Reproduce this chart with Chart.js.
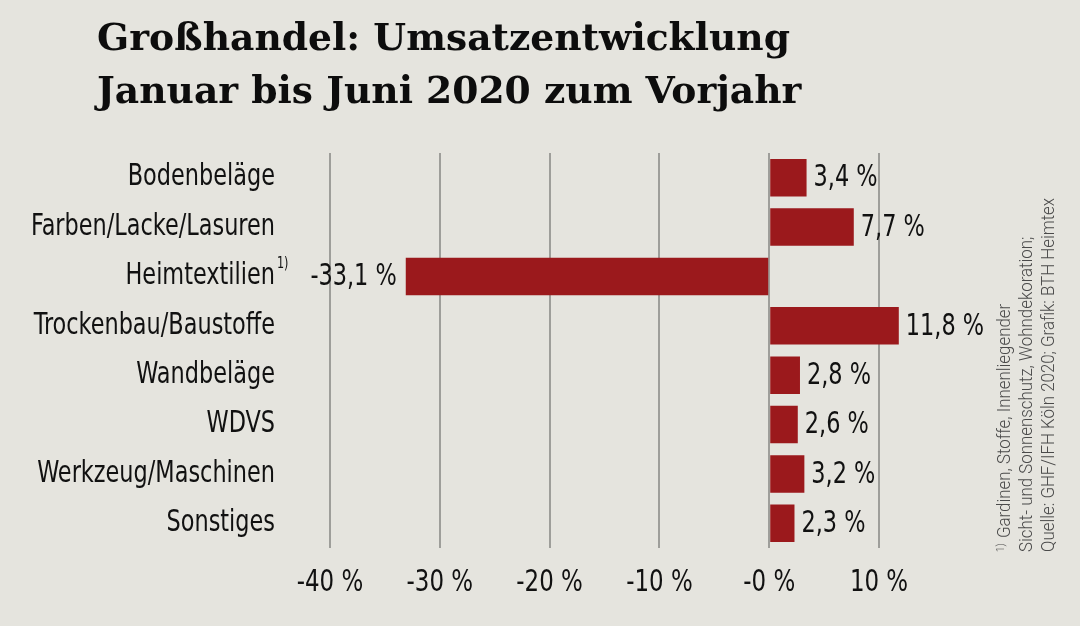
<!DOCTYPE html>
<html><head><meta charset="utf-8">
<script src="https://cdn.jsdelivr.net/npm/chart.js@4.4.0/dist/chart.umd.min.js"></script>
<style>html,body{margin:0;padding:0;background:#e5e4de;} #wrap{width:1080px;height:626px;position:relative}</style>
</head><body><div id="wrap"><canvas id="c" width="1080" height="626"></canvas></div>
<script>
const categories = ['Bodenbeläge','Farben/Lacke/Lasuren','Heimtextilien','Trockenbau/Baustoffe','Wandbeläge','WDVS','Werkzeug/Maschinen','Sonstiges'];
const values = [3.4, 7.7, -33.1, 11.8, 2.8, 2.6, 3.2, 2.3];
const xTickValues = [-40, -30, -20, -10, 0, 10];
const xTickLabels = ['-40 %', '-30 %', '-20 %', '-10 %', '-0 %', '10 %'];
const titleLines = ['Großhandel: Umsatzentwicklung', 'Januar bis Juni 2020 zum Vorjahr'];
const footnoteCategoryIndex = 2;
const footnoteMark = '1)';
const footnoteLines = ['Gardinen, Stoffe, Innenliegender', 'Sicht- und Sonnenschutz, Wohndekoration;', 'Quelle: GHF/IFH Köln 2020; Grafik: BTH Heimtex'];

const narrow = "'Liberation Sans Narrow','Arial Narrow','DejaVu Sans Condensed',sans-serif";
Chart.defaults.font.family = narrow;
Chart.defaults.color = '#111';
const SQUEEZE = 0.83;

function fmt(v){ return v.toFixed(1).replace('.', ',') + ' %'; }

// draw the library's own label items, horizontally condensed around their anchor
function condenseLabels(scale, factor){
  if (scale._condensed) return;
  scale._condensed = true;
  scale.drawLabels = function(area){
    const ctx = this.ctx;
    const items = this.getLabelItems(area);
    for (const item of items) {
      const o = item.options;
      ctx.save();
      ctx.translate(o.translation[0], o.translation[1]);
      ctx.rotate(o.rotation || 0);
      ctx.scale(factor, 1);
      ctx.font = item.font.string;
      ctx.fillStyle = o.color;
      ctx.textAlign = o.textAlign;
      ctx.textBaseline = o.textBaseline;
      const lines = Array.isArray(item.label) ? item.label : [item.label];
      lines.forEach((l, k) => ctx.fillText(l, 0, item.textOffset + k * item.font.lineHeight));
      ctx.restore();
    }
  };
}

const decor = {
  id: 'decor',
  beforeDraw(chart){
    condenseLabels(chart.scales.y, SQUEEZE);
    condenseLabels(chart.scales.x, 0.85);
    const ctx = chart.ctx;
    ctx.save(); ctx.fillStyle = '#e5e4de'; ctx.fillRect(0,0,chart.width,chart.height); ctx.restore();
  },
  afterDatasetsDraw(chart){
    const ctx = chart.ctx;
    const meta = chart.getDatasetMeta(0);
    ctx.save();
    ctx.font = "30px " + narrow;
    ctx.fillStyle = '#111';
    ctx.textBaseline = 'middle';
    meta.data.forEach((bar, i) => {
      const v = values[i];
      ctx.save();
      if (v >= 0) { ctx.textAlign = 'left'; ctx.translate(bar.x + 7, bar.y + 1); }
      else { ctx.textAlign = 'right'; ctx.translate(bar.x - 9, bar.y + 1); }
      ctx.scale(SQUEEZE, 1);
      ctx.fillText(fmt(v), 0, 0);
      ctx.restore();
    });
    ctx.restore();
  },
  afterDraw(chart){
    const ctx = chart.ctx;
    // title
    ctx.save();
    ctx.fillStyle = '#0d0d0d';
    ctx.font = "bold 38px 'DejaVu Serif', serif";
    ctx.textBaseline = 'alphabetic';
    ctx.textAlign = 'left';
    const w = ctx.measureText(titleLines[0]).width;
    const sx = 693 / w;
    [50, 103].forEach((yb, i) => {
      ctx.save(); ctx.translate(97, yb); ctx.scale(sx, 1); ctx.fillText(titleLines[i], 0, 0); ctx.restore();
    });
    ctx.restore();
    // superscript mark on category label
    const ys = chart.scales.y;
    ctx.save();
    ctx.fillStyle = '#111';
    ctx.font = "15px " + narrow;
    ctx.textAlign = 'left'; ctx.textBaseline = 'alphabetic';
    ctx.translate(277, ys.getPixelForValue(footnoteCategoryIndex) - 8);
    ctx.scale(SQUEEZE, 1);
    ctx.fillText(footnoteMark, 0, 0);
    ctx.restore();
    // rotated footnote
    ctx.save();
    ctx.fillStyle = '#4a4a4a';
    ctx.font = "300 19px Roboto, 'Open Sans', sans-serif";
    ctx.textAlign = 'left'; ctx.textBaseline = 'alphabetic';
    const fw = ctx.measureText(footnoteLines[2]).width;
    const fs = 354 / fw;
    const bases = [1010, 1032, 1054];
    footnoteLines.forEach((line, i) => {
      ctx.save();
      ctx.translate(bases[i], 552);
      ctx.rotate(-Math.PI / 2);
      ctx.scale(fs, 1);
      if (i === 0) {
        ctx.save(); ctx.font = "300 11px Roboto, 'Open Sans', sans-serif"; ctx.fillText(footnoteMark, 0, -6); ctx.restore();
        ctx.fillText(line, 14 / fs, 0);
      } else {
        ctx.fillText(line, 0, 0);
      }
      ctx.restore();
    });
    ctx.restore();
  }
};

new Chart(document.getElementById('c'), {
  type: 'bar',
  data: { labels: categories, datasets: [{ data: values, backgroundColor: '#9b191c', barPercentage: 0.76, categoryPercentage: 1 }] },
  options: {
    indexAxis: 'y', responsive: false, animation: false,
    layout: { padding: { left: 0, right: 179, top: 153, bottom: 0 } },
    plugins: { legend: { display: false }, tooltip: { enabled: false }, title: { display: false } },
    scales: {
      x: {
        type: 'linear', min: -40, max: 12,
        afterBuildTicks(s){ s.ticks = xTickValues.map(v => ({ value: v })); },
        afterFit(s){ s.height = 78; },
        grid: { color: '#9e9e9a', lineWidth: 2, drawTicks: false },
        border: { display: false },
        ticks: { font: { size: 30 }, color: '#111', padding: 17, maxRotation: 0, autoSkip: false,
          callback(v){ const i = xTickValues.indexOf(v); return i >= 0 ? xTickLabels[i] : ''; } }
      },
      y: {
        type: 'category',
        afterFit(s){ s.width = 330; },
        grid: { display: false, drawTicks: false },
        border: { display: false },
        ticks: { font: { size: 30 }, color: '#111', padding: 55 }
      }
    }
  },
  plugins: [decor]
});
</script>
</body></html>
